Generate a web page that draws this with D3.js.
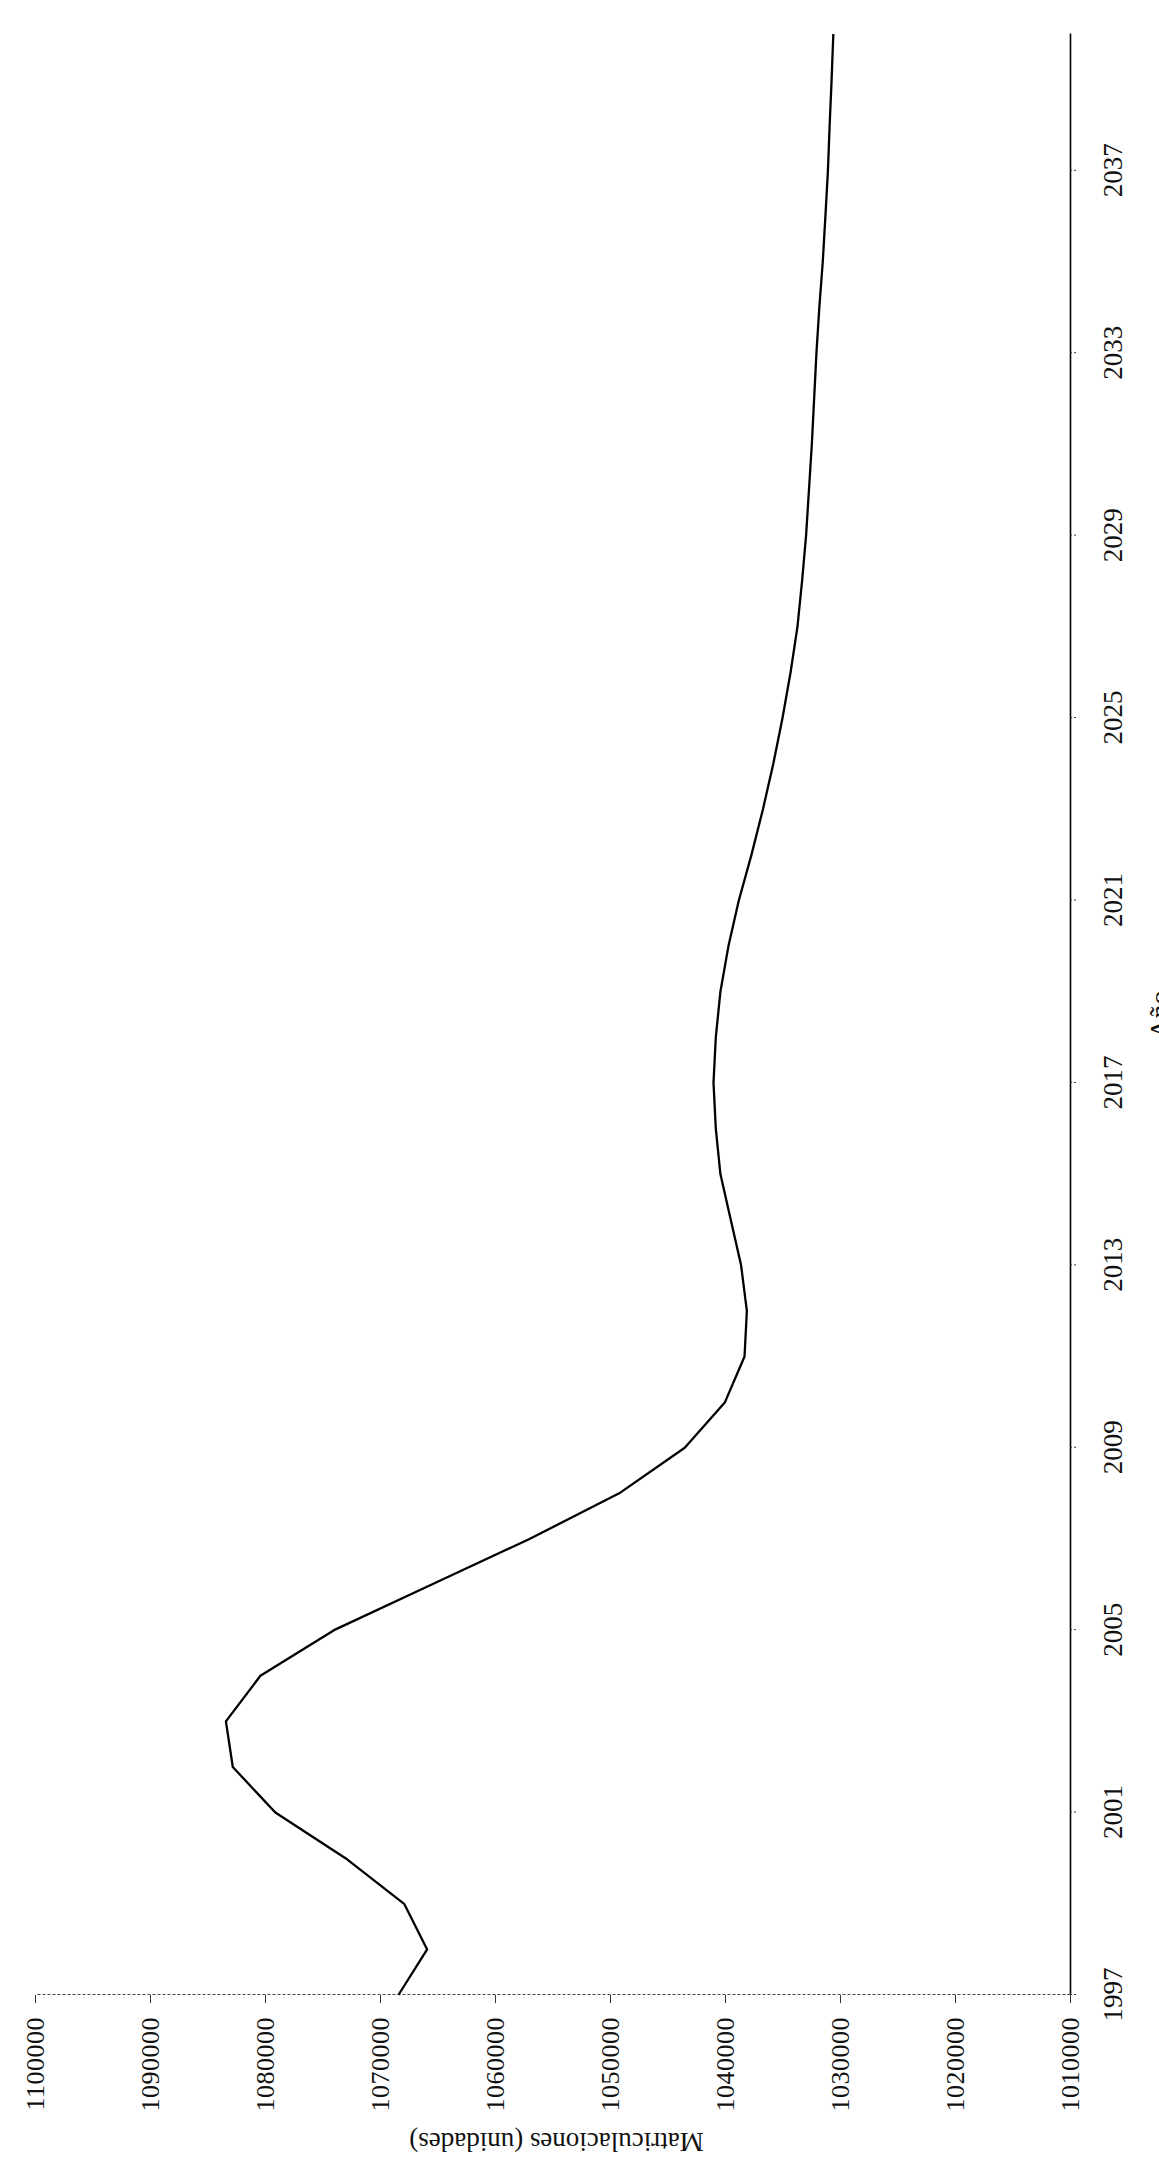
<!DOCTYPE html>
<html lang="es">
<head>
<meta charset="UTF-8">
<title>Matriculaciones por año</title>
<style>
  html, body { margin: 0; padding: 0; background: #fff; }
  svg { display: block; overflow: hidden; }
  text { font-family: "Liberation Serif", "Times New Roman", serif; fill: #111; }
</style>
</head>
<body>
<svg width="1159" height="2162"></svg>
<script src="https://cdnjs.cloudflare.com/ajax/libs/d3/7.8.5/d3.min.js"></script>
<script>
// datos
const years = [1997, 1998, 1999, 2000, 2001, 2002, 2003, 2004, 2005, 2006,
               2007, 2008, 2009, 2010, 2011, 2012, 2013, 2014, 2015, 2016,
               2017, 2018, 2019, 2020, 2021, 2022, 2023, 2024, 2025, 2026,
               2027, 2028, 2029, 2030, 2031, 2032, 2033, 2034, 2035, 2036,
               2037, 2038, 2039, 2040];
const matriculaciones = [1068400, 1065900, 1067900, 1073000, 1079100, 1082800, 1083400, 1080400, 1074000, 1065500,
                         1057000, 1049200, 1043500, 1040000, 1038300, 1038100, 1038600, 1039500, 1040400, 1040800,
                         1041000, 1040800, 1040400, 1039700, 1038800, 1037700, 1036700, 1035800, 1035000, 1034300,
                         1033700, 1033300, 1032950, 1032700, 1032450, 1032250, 1032050, 1031800, 1031500, 1031270,
                         1031050, 1030900, 1030730, 1030580];
const yearTicks = [1997, 2001, 2005, 2009, 2013, 2017, 2021, 2025, 2029, 2033, 2037];
const valueTicks = [1010000, 1020000, 1030000, 1040000, 1050000, 1060000, 1070000, 1080000, 1090000, 1100000];

const pageW = 1159, pageH = 2162;
const svg = d3.select('svg');

// el gráfico está girado: se dibuja apaisado y se rota -90°
const g = svg.append('g')
    .attr('transform', `translate(0,${pageH}) rotate(-90)`);

const x = d3.scaleLinear().domain([1997, 2040]).range([167, 2128]);
const y = d3.scaleLinear().domain([1010000, 1100000]).range([1070, 35]);

// eje de años
const xAxis = g.append('g')
    .attr('transform', `translate(0,${y(1010000)})`)
    .call(d3.axisBottom(x)
        .tickValues(yearTicks)
        .tickFormat(d3.format('d'))
        .tickSize(8)
        .tickSizeOuter(0));
xAxis.select('.domain').attr('stroke', '#000').attr('stroke-width', 1.6);
xAxis.selectAll('.tick line').attr('stroke', '#333').attr('stroke-dasharray', '2,2');
xAxis.selectAll('.tick text')
    .attr('y', 52).attr('dy', 0)
    .attr('font-size', 27)
    .attr('font-family', '"Liberation Serif", serif');

// eje de valores
const yAxis = g.append('g')
    .attr('transform', `translate(${x(1997)},0)`)
    .call(d3.axisLeft(y)
        .tickValues(valueTicks)
        .tickFormat(d3.format('d'))
        .tickSize(8)
        .tickSizeOuter(0));
yAxis.select('.domain').attr('stroke', '#444').attr('stroke-width', 1.2).attr('stroke-dasharray', '3,2');
yAxis.selectAll('.tick line').attr('stroke', '#333');
yAxis.selectAll('.tick text')
    .attr('x', -22).attr('dy', '0.34em')
    .attr('font-size', 26)
    .attr('letter-spacing', 0.5)
    .attr('font-family', '"Liberation Serif", serif');

// serie
const line = d3.line()
    .x((d, i) => x(years[i]))
    .y(d => y(d));

g.append('path')
    .datum(matriculaciones)
    .attr('fill', 'none')
    .attr('stroke', '#000')
    .attr('stroke-width', 2.3)
    .attr('stroke-linejoin', 'round')
    .attr('d', line);

// títulos de ejes
g.append('text')
    .attr('transform', `translate(20,${(y(1100000) + y(1010000)) / 2 + 4}) rotate(-90)`)
    .attr('text-anchor', 'middle')
    .attr('dy', '0.35em')
    .attr('font-size', 27)
    .text('Matriculaciones (unidades)');

g.append('text')
    .attr('x', (x(1997) + x(2040)) / 2)
    .attr('y', 1169)
    .attr('text-anchor', 'middle')
    .attr('font-size', 28)
    .text('Año');
</script>
</body>
</html>
